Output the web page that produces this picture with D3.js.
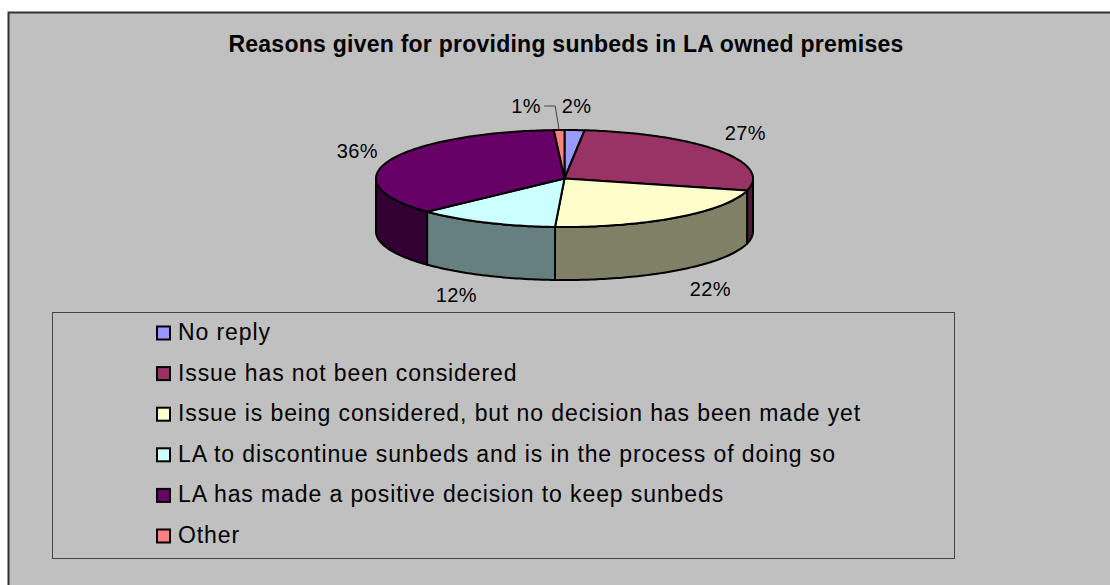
<!DOCTYPE html>
<html>
<head>
<meta charset="utf-8">
<script src="https://cdn.jsdelivr.net/npm/d3@7"></script>
<style>
  html, body { margin: 0; padding: 0; background: #fff; }
  svg { display: block; }
  text { font-family: "Liberation Sans", Arial, sans-serif; fill: #000; }
</style>
</head>
<body>
<svg id="chart" width="1110" height="585"></svg>
<script>
const chartTitle = 'Reasons given for providing sunbeds in LA owned premises';
const categories = [
  'No reply',
  'Issue has not been considered',
  'Issue is being considered, but no decision has been made yet',
  'LA to discontinue sunbeds and is in the process of doing so',
  'LA has made a positive decision to keep sunbeds',
  'Other'
];
const shares = [1.7, 27.3, 21.8, 12.2, 36.1, 0.9];
const colors = ['#9999FF', '#993366', '#FFFFCC', '#CCFFFF', '#660066', '#FF8080'];

const svg = d3.select('#chart');

// chart area frame, runs off the right and bottom of the image
svg.append('rect').attr('x', 8.5).attr('y', 12.5).attr('width', 1120).attr('height', 600)
  .attr('fill', '#C0C0C0').attr('stroke', '#333').attr('stroke-width', 2);

svg.append('text').attr('x', 566).attr('y', 52).attr('text-anchor', 'middle')
  .style('font-size', '23px').style('font-weight', 'bold').style('letter-spacing', '0.25px')
  .text(chartTitle);

// flattened pie: unit circle mapped on to an ellipse
const x = d3.scaleLinear().domain([-1, 1]).range([376, 753]);
const y = d3.scaleLinear().domain([-1, 1]).range([130, 227]);
const depth = 53;

const pie = d3.pie().sort(null).value(d => d);
const arcs = pie(shares);

const px = a => x(Math.sin(a));
const py = a => y(-Math.cos(a));
const line = d3.line().x(d => d[0]).y(d => d[1]);

function arcPoints(a0, a1, dy = 0) {
  const n = Math.max(2, Math.ceil((a1 - a0) / (Math.PI / 180)));
  return d3.range(n + 1).map(i => {
    const a = a0 + (a1 - a0) * i / n;
    return [px(a), py(a) + dy];
  });
}

// half the brightness of the top face
function wallColor(c) {
  const { r, g, b } = d3.rgb(c);
  return d3.rgb(r / 2, g / 2, b / 2);
}

// walls first, only the front half of the pie shows one
const pieG = svg.append('g').attr('stroke', '#000').attr('stroke-width', 2).attr('stroke-linejoin', 'round');
arcs.forEach((d, i) => {
  const a0 = Math.max(d.startAngle, Math.PI / 2);
  const a1 = Math.min(d.endAngle, Math.PI * 1.5);
  if (a1 <= a0) return;
  const pts = arcPoints(a0, a1).concat(arcPoints(a0, a1, depth).reverse());
  pieG.append('path').attr('d', line(pts) + 'Z').attr('fill', wallColor(colors[i]));
});

arcs.forEach((d, i) => {
  const pts = [[x(0), y(0)]].concat(arcPoints(d.startAngle, d.endAngle));
  pieG.append('path').attr('d', line(pts) + 'Z').attr('fill', colors[i]);
});

// labels sit off the rim, nudged the way the original placed them
const labelNudge = [[2, -24], [26, -18], [34, 18], [-29, 19], [-32, -10], [-33, -24]];
arcs.forEach((d, i) => {
  const mid = (d.startAngle + d.endAngle) / 2;
  const front = Math.cos(mid) < 0;
  svg.append('text')
    .attr('x', px(mid) + labelNudge[i][0])
    .attr('y', py(mid) + (front ? depth : 0) + labelNudge[i][1])
    .attr('text-anchor', 'middle').attr('dominant-baseline', 'central')
    .style('font-size', '20px').style('letter-spacing', '0.4px')
    .text(d3.format('.0f')(d.value) + '%');
});

// leader line from the small "Other" slice to its label
const otherMid = (arcs[5].startAngle + arcs[5].endAngle) / 2;
svg.append('path')
  .attr('d', line([[px(otherMid), py(otherMid)], [px(otherMid) - 4, 106], [px(otherMid) - 15, 106]]))
  .attr('fill', 'none').attr('stroke', '#444').attr('stroke-width', 1);

// legend
svg.append('rect').attr('x', 52.5).attr('y', 312.5).attr('width', 902).attr('height', 246)
  .attr('fill', 'none').attr('stroke', '#444').attr('stroke-width', 1);

const legendY = d3.scalePoint().domain(categories).range([333, 536]);
const legend = svg.append('g').selectAll('g').data(categories).join('g')
  .attr('transform', d => `translate(156,${legendY(d)})`);
legend.append('rect').attr('x', 1).attr('y', -6.5).attr('width', 13).attr('height', 13)
  .attr('fill', (d, i) => colors[i]).attr('stroke', '#000').attr('stroke-width', 2);
legend.append('text').attr('x', 22).attr('y', 7)
  .style('font-size', '23px').style('letter-spacing', '0.9px').text(d => d);
</script>
</body>
</html>
